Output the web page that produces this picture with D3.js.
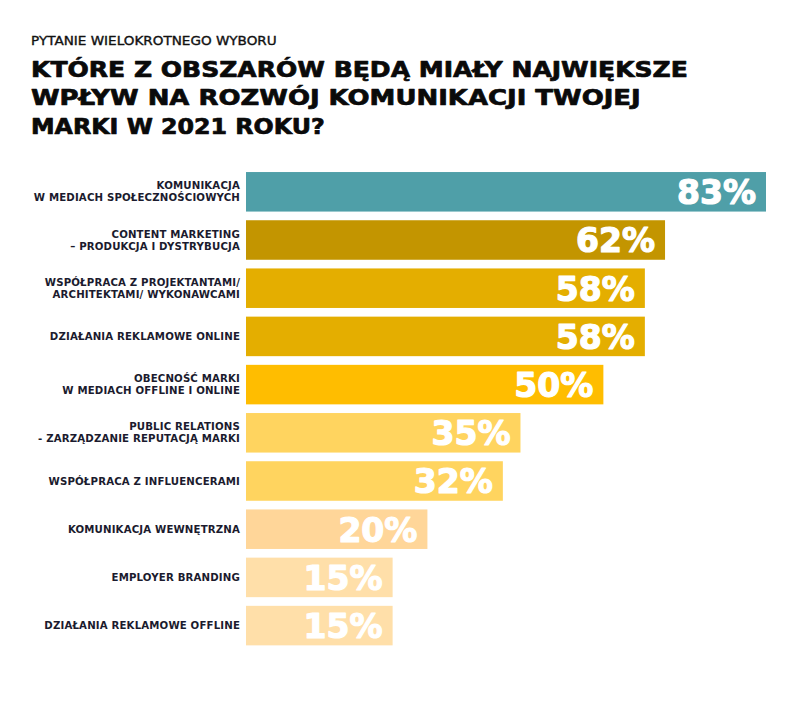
<!DOCTYPE html>
<html lang="pl">
<head>
<meta charset="UTF-8">
<script src="https://d3js.org/d3.v7.min.js"></script>
<style>
  html, body { margin: 0; padding: 0; background: #fff; }
  .kicker { font-family: 'DejaVu Sans', sans-serif; font-size: 12px; font-weight: 400; fill: #111; stroke: #111; stroke-width: 0.35; }
  .title { font-family: 'DejaVu Sans', sans-serif; font-size: 21px; font-weight: 700; fill: #0a0a0a; stroke: #0a0a0a; stroke-width: 0.7; stroke-linejoin: round; }
  .cat text { font-family: 'DejaVu Sans', sans-serif; font-size: 10.2px; font-weight: 700; fill: #1b1b2e; letter-spacing: 0.15px; }
  .val { font-family: 'DejaVu Sans', sans-serif; font-size: 33px; font-weight: 700; fill: #fff; stroke: #fff; stroke-width: 1.2; stroke-linejoin: round; text-anchor: end; }
</style>
</head>
<body>
<div id="chart"></div>
<script>
// ---- data ----
var categories = [
  ["KOMUNIKACJA", "W MEDIACH SPOŁECZNOŚCIOWYCH"],
  ["CONTENT MARKETING", "– PRODUKCJA I DYSTRYBUCJA"],
  ["WSPÓŁPRACA Z PROJEKTANTAMI/", "ARCHITEKTAMI/ WYKONAWCAMI"],
  ["DZIAŁANIA REKLAMOWE ONLINE"],
  ["OBECNOŚĆ MARKI", "W MEDIACH OFFLINE I ONLINE"],
  ["PUBLIC RELATIONS", "- ZARZĄDZANIE REPUTACJĄ MARKI"],
  ["WSPÓŁPRACA Z INFLUENCERAMI"],
  ["KOMUNIKACJA WEWNĘTRZNA"],
  ["EMPLOYER BRANDING"],
  ["DZIAŁANIA REKLAMOWE OFFLINE"]
];
var values = [83, 62, 58, 58, 50, 35, 32, 20, 15, 15];
var barColors = ["#4f9fa8", "#c39500", "#e4ae00", "#e4ae00", "#ffbd00",
                 "#ffd45f", "#ffd45f", "#ffd699", "#ffdfa9", "#ffdfa9"];

var kicker = "PYTANIE WIELOKROTNEGO WYBORU";
var titleLines = [
  "KTÓRE Z OBSZARÓW BĘDĄ MIAŁY NAJWIĘKSZE",
  "WPŁYW NA ROZWÓJ KOMUNIKACJI TWOJEJ",
  "MARKI W 2021 ROKU?"
];
var titleWidths = [657, 610, 294];

var width = 790, height = 715;
var barLeft = 246;

var svg = d3.select("#chart").append("svg")
  .attr("width", width)
  .attr("height", height);

// stretch a text horizontally to a given width (the original uses a wide font)
function fitWidth(sel, x, y, target) {
  sel.each(function(d, i) {
    var t = typeof target === "function" ? target(d, i) : target;
    var ty = typeof y === "function" ? y(d, i) : y;
    var w = this.getComputedTextLength();
    d3.select(this).attr("transform",
      "translate(" + x + "," + ty + ") scale(" + (t / w) + ",1)");
  });
}

// header
svg.append("text")
  .attr("class", "kicker")
  .text(kicker)
  .call(fitWidth, 31, 45, 246);

svg.selectAll(".title")
  .data(titleLines)
  .enter().append("text")
  .attr("class", "title")
  .text(function(d) { return d; })
  .call(fitWidth, 31, function(d, i) { return 77 + i * 28.3; },
        function(d, i) { return titleWidths[i]; });

// scales - bar lengths in the original are not strictly proportional
var y = d3.scaleBand()
  .domain(d3.range(values.length))
  .range([167.7, 649.7])
  .paddingInner(0.18)
  .paddingOuter(0.09);

var x = d3.scalePow()
  .exponent(0.74)
  .domain([0, 83])
  .range([0, 520]);

var rows = svg.selectAll(".row")
  .data(values)
  .enter().append("g")
  .attr("class", "row")
  .attr("transform", function(d, i) { return "translate(0," + y(i) + ")"; });

rows.append("rect")
  .attr("x", barLeft)
  .attr("y", 0)
  .attr("width", function(d) { return x(d); })
  .attr("height", y.bandwidth())
  .style("fill", function(d, i) { return barColors[i]; });

rows.append("text")
  .attr("class", "val")
  .attr("x", function(d) { return barLeft + x(d) - 10; })
  .attr("y", y.bandwidth() / 2 + 12.5)
  .text(function(d) { return d + "%"; });

// category labels
var cat = rows.append("g").attr("class", "cat");
cat.each(function(d, i) {
  var lines = categories[i];
  var g = d3.select(this);
  var mid = y.bandwidth() / 2;
  var lh = 12;
  var first = mid + 3.7 - (lines.length - 1) * lh / 2;
  lines.forEach(function(t, j) {
    g.append("text")
      .attr("x", 240)
      .attr("y", first + j * lh)
      .attr("text-anchor", "end")
      .text(t);
  });
});
</script>
</body>
</html>
